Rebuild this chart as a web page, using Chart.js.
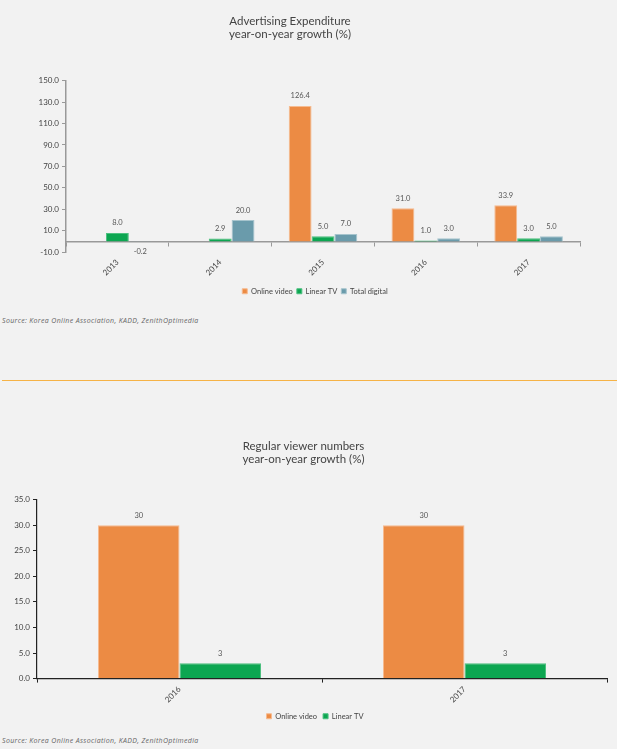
<!DOCTYPE html>
<html>
<head>
<meta charset="utf-8">
<script src="https://cdn.jsdelivr.net/npm/chart.js@4.4.1/dist/chart.umd.min.js"></script>
<style>
  html, body { margin: 0; padding: 0; background: #f2f2f2; }
  body { width: 617px; height: 749px; position: relative; overflow: hidden; font-family: Lato, sans-serif; }
  .box { position: absolute; left: 0; width: 617px; }
  .source { position: absolute; left: 2px; font-family: "Open Sans", sans-serif; font-size: 7px; font-weight: 400; letter-spacing: 0.35px; font-style: italic; color: #666; white-space: nowrap; }
  .divider { position: absolute; left: 2px; right: 0; top: 380px; border-top: 1.5px solid #f6b347; }
</style>
</head>
<body>
<div class="box" style="top:0; height:305px;"><canvas id="spend"></canvas></div>
<div class="source" style="top:316px;">Source: Korea Online Association, KADD, ZenithOptimedia</div>
<div class="divider"></div>
<div class="box" style="top:425px; height:305px;"><canvas id="viewers"></canvas></div>
<div class="source" style="top:736px;">Source: Korea Online Association, KADD, ZenithOptimedia</div>

<script>
// advertising expenditure, yoy growth (%)
const years1 = ['2013', '2014', '2015', '2016', '2017'];
const onlineVideo1 = [null, null, 126.4, 31.0, 33.9];
const linearTV1 = [8.0, 2.9, 5.0, 1.0, 3.0];
const totalDigital1 = [-0.2, 20.0, 7.0, 3.0, 5.0];
const yTicks1 = [-10, 10, 30, 50, 70, 90, 110, 130, 150];

// regular viewer numbers, yoy growth (%)
const years2 = ['2016', '2017'];
const onlineVideo2 = [30, 30];
const linearTV2 = [3, 3];
const yTicks2 = [0, 5, 10, 15, 20, 25, 30, 35];

const ORANGE = '#ec8b44', GREEN = '#0ca651', TEAL = '#6a9bab';

Chart.defaults.font.family = 'Lato, sans-serif';
Chart.defaults.color = '#444';

// numbers above (or below, when negative) each bar
const valueLabels = {
  id: 'valueLabels',
  afterDatasetsDraw(chart, args, opts) {
    const ctx = chart.ctx;
    ctx.save();
    ctx.font = '7.5px Lato, sans-serif';
    ctx.fillStyle = '#555';
    ctx.textAlign = 'center';
    ctx.textBaseline = 'middle';
    chart.data.datasets.forEach((ds, i) => {
      chart.getDatasetMeta(i).data.forEach((bar, j) => {
        const v = ds.data[j];
        if (v == null) return;
        const y = v >= 0 ? bar.y - 10 : bar.y + 10;
        ctx.fillText(v.toFixed(opts.digits), bar.x, y);
      });
    });
    ctx.restore();
  }
};

// legend sits centred on the page, not on the padded box
const legendCenter = {
  id: 'legendCenter',
  beforeDraw(chart, args, opts) {
    const lg = chart.legend;
    if (!lg) return;
    const d = opts.x - (lg.left + lg.right) / 2;
    lg.left += d;
    lg.right += d;
  }
};

function fixedTicks(list) {
  return scale => { scale.ticks = list.map(v => ({ value: v })); };
}

// an empty legend title acts as a spacer above the legend items
function legendOpts(gap) {
  return {
    position: 'bottom',
    title: { display: gap > 0, text: '', font: { size: 1 }, padding: { top: gap, bottom: 0 } },
    labels: { boxWidth: 5, boxHeight: 5, font: { size: 7.5 }, color: '#444', padding: 4 }
  };
}

new Chart(document.getElementById('spend'), {
  type: 'bar',
  data: {
    labels: years1,
    datasets: [
      { label: 'Online video', data: onlineVideo1, backgroundColor: ORANGE, borderColor: '#f6bb90', borderWidth: 1 },
      { label: 'Linear TV', data: linearTV1, backgroundColor: GREEN, borderColor: '#4cc07f', borderWidth: 1 },
      { label: 'Total digital', data: totalDigital1, backgroundColor: TEAL, borderColor: '#a6c4cd', borderWidth: 1 }
    ]
  },
  options: {
    responsive: true,
    maintainAspectRatio: false,
    animation: false,
    datasets: { bar: { categoryPercentage: 0.667, barPercentage: 1 } },
    layout: { padding: { left: 0, right: 37, top: 0, bottom: 0 } },
    plugins: {
      title: {
        display: true,
        text: ['Advertising Expenditure', 'year-on-year growth (%)'],
        color: '#444',
        font: { size: 11.5, weight: 'normal' },
        padding: { top: 14, bottom: 39 }
      },
      legend: legendOpts(30),
      tooltip: { enabled: false },
      valueLabels: { digits: 1 },
      legendCenter: { x: 315 }
    },
    scales: {
      x: {
        position: { y: 0 },
        grid: { drawOnChartArea: false, tickLength: 4, color: '#999', offset: true },
        border: { color: '#999', width: 1.5 },
        ticks: { minRotation: 45, maxRotation: 45, padding: 12, font: { size: 8 }, color: '#444' }
      },
      y: {
        min: yTicks1[0],
        max: yTicks1[yTicks1.length - 1],
        afterBuildTicks: fixedTicks(yTicks1),
        afterFit: s => { s.width = 66; },
        grid: { drawOnChartArea: false, tickLength: 4, color: '#999' },
        border: { color: '#999', width: 1.5 },
        ticks: { callback: v => v.toFixed(1), padding: 3, font: { size: 8 }, color: '#444' }
      }
    }
  },
  plugins: [valueLabels, legendCenter]
});

new Chart(document.getElementById('viewers'), {
  type: 'bar',
  data: {
    labels: years2,
    datasets: [
      { label: 'Online video', data: onlineVideo2, backgroundColor: ORANGE, borderColor: '#f6bb90', borderWidth: 1 },
      { label: 'Linear TV', data: linearTV2, backgroundColor: GREEN, borderColor: '#4cc07f', borderWidth: 1 }
    ]
  },
  options: {
    responsive: true,
    maintainAspectRatio: false,
    animation: false,
    datasets: { bar: { categoryPercentage: 0.572, barPercentage: 1 } },
    layout: { padding: { left: 0, right: 10, top: 0, bottom: 0 } },
    plugins: {
      title: {
        display: true,
        text: ['Regular viewer numbers', 'year-on-year growth (%)'],
        color: '#444',
        font: { size: 11.5, weight: 'normal' },
        padding: { top: 14, bottom: 33 }
      },
      legend: { position: 'bottom', labels: { boxWidth: 5, boxHeight: 5, font: { size: 7.5 }, color: '#444', padding: 6 } },
      tooltip: { enabled: false },
      valueLabels: { digits: 0 },
      legendCenter: { x: 315 }
    },
    scales: {
      x: {
        grid: { drawOnChartArea: false, tickLength: 4, color: '#222', offset: true },
        border: { color: '#222', width: 1.2 },
        ticks: { minRotation: 45, maxRotation: 45, padding: 2, font: { size: 8 }, color: '#444' }
      },
      y: {
        min: yTicks2[0],
        max: yTicks2[yTicks2.length - 1],
        afterBuildTicks: fixedTicks(yTicks2),
        afterFit: s => { s.width = 37; },
        grid: { drawOnChartArea: false, tickLength: 4, color: '#222' },
        border: { color: '#222', width: 1.2 },
        ticks: { callback: v => v.toFixed(1), padding: 3, font: { size: 8 }, color: '#444' }
      }
    }
  },
  plugins: [valueLabels, legendCenter]
});
</script>
</body>
</html>
